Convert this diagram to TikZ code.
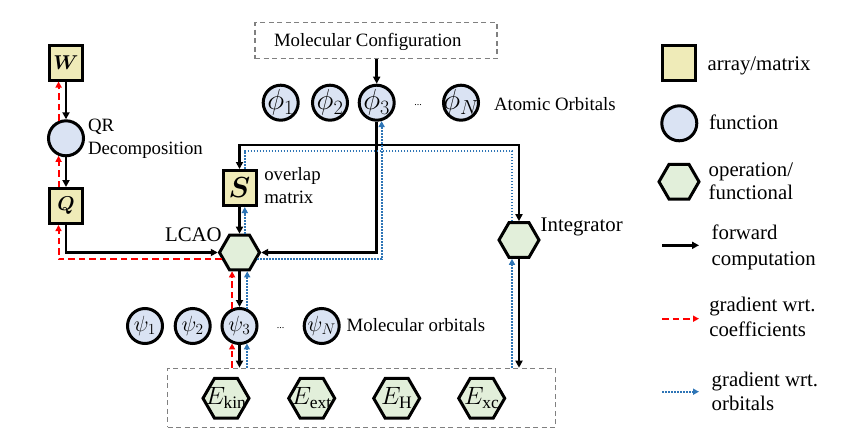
\RequirePackage{fix-cm}
\documentclass[tikz,border=0pt]{standalone}
\usepackage{bm}
\usepackage{fontspec}
\setmainfont{Liberation Serif}
\usetikzlibrary{shapes.geometric,arrows.meta,calc}
\definecolor{matfill}{HTML}{EFEBB8}
\definecolor{funfill}{HTML}{DAE3F3}
\definecolor{opfill}{HTML}{E2EFDA}
\definecolor{gblue}{HTML}{2E75B6}
\definecolor{boxgray}{HTML}{808080}
\newcommand\fsz[1]{\fontsize{#1}{#1}\selectfont}
\begin{document}
\begin{tikzpicture}[x=1pt,y=-1pt,
  mat/.style={draw, line width=3pt, fill=matfill, minimum width=33pt, minimum height=35pt, inner sep=0pt},
  fun/.style={circle, draw, line width=3pt, fill=funfill, minimum size=35pt, inner sep=0pt},
  op/.style={regular polygon, regular polygon sides=6, draw, line width=3pt, fill=opfill, minimum size=40pt, inner sep=0pt},
  opbig/.style={op, minimum size=46pt},
  fwd/.style={line width=2.6pt, -{Triangle[length=7pt,width=7pt]}},
  gcoef/.style={red, line width=2pt, dash pattern=on 6.5pt off 4pt, -{Triangle[length=6pt,width=6pt]}},
  gorb/.style={gblue, line width=1.8pt, dash pattern=on 1.6pt off 1.4pt, -{Triangle[length=6pt,width=6pt]}},
  gorbl/.style={gblue, line width=1.8pt, dash pattern=on 1.6pt off 1.4pt},
  lbl/.style={font=\fontsize{18.8}{23}\selectfont, inner sep=0pt, outer sep=0pt},
  lblb/.style={font=\fontsize{20.8}{24}\selectfont, inner sep=0pt, outer sep=0pt},
  gbox/.style={draw=boxgray, line width=1.2pt, dash pattern=on 5pt off 3.5pt, inner sep=0pt},
  dots/.style={font=\fsz{10}, inner sep=0pt},
]
\useasboundingbox (0,0) rectangle (863,447);

% ---- left column
\node[mat, label={center:{\fsz{20}$\bm{W}$}}] (W) at (66,62.5) {};
\node[fun] (QR) at (66,138.3) {};
\node[mat, label={center:{\fsz{20}$\bm{Q}$}}] (Q) at (66,206) {};
\node[lbl, anchor=west, align=left, font=\fontsize{18.8}{22.7}\selectfont] (QRl) at (88,138.9) {QR\\Decomposition};

% ---- molecular configuration and atomic orbitals
\node[gbox, minimum width=242pt, minimum height=36pt] (MC) at (376,40.7) {};
\node[lbl, anchor=base west] (MCl) at (274,46.5) {Molecular Configuration};
\node[fun, label={center:{\fsz{29}$\phi_1$}}] (phi1) at (280.7,102.7) {};
\node[fun, label={center:{\fsz{29}$\phi_2$}}] (phi2) at (330,102.7) {};
\node[fun, label={center:{\fsz{29}$\phi_3$}}] (phi3) at (376.7,102.7) {};
\node[dots, anchor=base] (phid) at (418,105) {...};
\node[fun, label={center:{\fsz{29}$\phi_N$}}] (phiN) at (461,102.7) {};
\node[lbl, anchor=base west] (AOl) at (494,110) {Atomic Orbitals};

% ---- overlap, LCAO, integrator
\node[mat, label={center:{\fsz{29}$\bm{S}$}}] (S) at (239.5,188) {};
\node[lbl, anchor=west, align=left, font=\fontsize{18.8}{23.3}\selectfont] (Sl) at (264.3,185.3) {overlap\\matrix};
\node[op] (LCAO) at (239.5,252.5) {};
\node[lblb, anchor=base east] (LCAOl) at (221.7,241.7) {LCAO};
\node[op] (Int) at (519,240) {};
\node[lblb, anchor=base west] (Intl) at (540.7,231.7) {Integrator};

% ---- molecular orbitals
\node[fun, label={center:{\fsz{22}$\psi_1$}}] (psi1) at (145,326) {};
\node[fun, label={center:{\fsz{22}$\psi_2$}}] (psi2) at (192.7,326) {};
\node[fun, label={center:{\fsz{22}$\psi_3$}}] (psi3) at (239.5,326) {};
\node[dots, anchor=base] (psid) at (280.5,328) {...};
\node[fun, label={center:{\fsz{22}$\psi_N$}}] (psiN) at (321.7,326) {};
\node[lbl, anchor=base west] (MOl) at (346.7,331.7) {Molecular orbitals};

% ---- energy terms
\node[gbox, minimum width=388pt, minimum height=59pt] (Ebox) at (361.5,397.8) {};
\node[opbig, label={center:{\fsz{25}$E_{\mathrm{kin}}$}}] (Ekin) at (226,398.3) {};
\node[opbig, label={center:{\fsz{25}$E_{\mathrm{ext}}$}}] (Eext) at (311.7,398.3) {};
\node[opbig, label={center:{\fsz{25}$E_{\mathrm{H}}$}}] (EH) at (396.7,398.3) {};
\node[opbig, label={center:{\fsz{25}$E_{\mathrm{xc}}$}}] (Exc) at (481.7,398.3) {};

% ---- connectors: QR part
\draw[fwd] (W.south) -- (QR.north);
\draw[gcoef] (QR.113) -- (QR.113 |- W.south);
\draw[fwd] (QR.south) -- (Q.north);
\draw[gcoef] (Q.north -| QR.247) -- (QR.247);

% ---- from molecular configuration
\draw[fwd] (MC.south -| phi3.north) -- (phi3.north);

% ---- forward from phi3
\coordinate (jf) at (376.7,145);
\coordinate (yb) at (0,150.7);
\coordinate (jb) at (phi3.-75 |- yb);
\draw[fwd] (phi3.south) -- (jf) -| (S.north);
\draw[fwd] (jf) -| (Int.north);
\draw[fwd] (jf) |- (LCAO.east);

% ---- orbital gradients to phi3
\draw[gorbl] ([xshift=5.3pt]S.north) |- (jb);
\coordinate (it) at ([xshift=-7pt]Int.north);
\draw[gorbl] (it) |- (jb);
\draw[gorb] (LCAO.-21) -| (phi3.-75);

% ---- Q, S into LCAO
\draw[fwd] (Q.south) |- (LCAO.west);
\coordinate (qg) at ([xshift=-7.5pt]Q.south);
\draw[gcoef] (LCAO.201) -| (qg);
\draw[fwd] (S.south) -- (LCAO.north);
\coordinate (sg) at ([xshift=5.3pt]S.south);
\draw[gorb] (sg |- LCAO.north) -- (sg);

% ---- LCAO to psi3
\draw[fwd] (LCAO.south) -- (psi3.north);
\draw[gcoef] (psi3.113) -- (psi3.113 |- LCAO.south);
\draw[gorb] (psi3.66) -- (psi3.66 |- LCAO.south);

% ---- psi3 to energies
\draw[fwd] (psi3.south) -- (psi3.south |- Ebox.north);
\draw[gcoef] (psi3.247 |- Ebox.north) -- (psi3.247);
\draw[gorb] (psi3.293 |- Ebox.north) -- (psi3.293);

% ---- integrator to energies
\draw[fwd] (Int.south) -- (Int.south |- Ebox.north);
\coordinate (ib) at ([xshift=-7pt]Int.south);
\draw[gorb] (ib |- Ebox.north) -- (ib);

% ---- legend
\node[mat] (Lmat) at (678.8,62.8) {};
\node[lblb, anchor=base west] (Lmatl) at (707.7,70) {array/matrix};
\node[fun] (Lfun) at (679.3,123.3) {};
\node[lblb, anchor=base west] (Lfunl) at (709,129.3) {function};
\node[op] (Lop) at (679,181.7) {};
\node[lblb, anchor=west, align=left, font=\fontsize{20.8}{23}\selectfont] (Lopl) at (708.7,181.5) {operation/\\functional};
\coordinate (Lf1) at (662.3,245.3);
\coordinate (Lf2) at (699,245.3);
\draw[fwd] (Lf1) -- (Lf2);
\node[lblb, anchor=west, align=left, font=\fontsize{20.8}{26}\selectfont] (Lfl) at (711.7,246.9) {forward\\computation};
\coordinate (Lc1) at (662.3,318.7);
\coordinate (Lc2) at (699,318.7);
\draw[gcoef] (Lc1) -- (Lc2);
\node[lblb, anchor=west, align=left, font=\fontsize{20.8}{24.3}\selectfont] (Lcl) at (709.3,316.8) {gradient wrt.\\coefficients};
\coordinate (Lo1) at (662.3,391.7);
\coordinate (Lo2) at (699,391.7);
\draw[gorb] (Lo1) -- (Lo2);
\node[lblb, anchor=west, align=left, font=\fontsize{20.8}{24}\selectfont] (Lol) at (711.7,391.7) {gradient wrt.\\orbitals};
\end{tikzpicture}
\end{document}
